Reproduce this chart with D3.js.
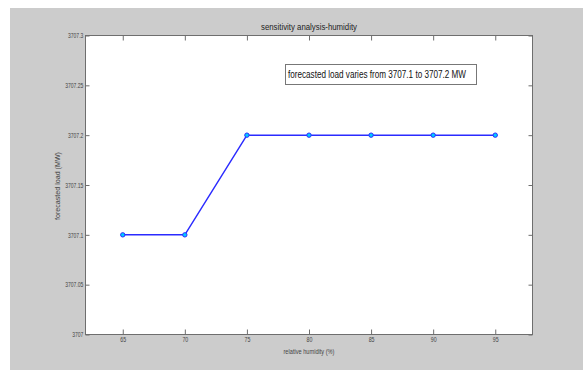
<!DOCTYPE html>
<html lang="en">
<head>
    <meta charset="UTF-8">
    <title>sensitivity analysis-humidity</title>
    <script src="https://d3js.org/d3.v7.min.js"></script>
    <style>
        body { margin: 0; background: #fff; }
        text { font-family: "Liberation Sans", Arial, sans-serif; fill: #333; }
        .axis path, .axis line { stroke: #6e6e6e; }
        .axis text { font-size: 7px; fill: #444; }
    </style>
</head>
<body>
<svg width="583" height="370"></svg>

<script>
    // data
    const humidity = [65, 70, 75, 80, 85, 90, 95];
    const load = [3707.1, 3707.1, 3707.2, 3707.2, 3707.2, 3707.2, 3707.2];
    const xTicks = [65, 70, 75, 80, 85, 90, 95];
    const yTicks = [3707, 3707.05, 3707.1, 3707.15, 3707.2, 3707.25, 3707.3];

    const svg = d3.select("svg");
    const plotL = 85.5, plotR = 532.5, plotT = 35.5, plotB = 334.5;

    // gray figure background
    svg.append("rect")
        .attr("x", 10).attr("y", 8)
        .attr("width", 573).attr("height", 362)
        .attr("fill", "#cccccc");

    svg.append("rect")
        .attr("x", plotL).attr("y", plotT)
        .attr("width", plotR - plotL).attr("height", plotB - plotT)
        .attr("fill", "#fff")
        .attr("stroke", "#6e6e6e");

    const x = d3.scaleLinear().domain([62, 98]).range([plotL, plotR]);
    const y = d3.scaleLinear().domain([3707, 3707.3]).range([plotB, plotT]);

    const fmtY = d => d3.format(".2~f")(d);

    // bottom axis, ticks pointing in
    const gx = svg.append("g")
        .attr("class", "axis")
        .attr("transform", `translate(0,${plotB})`)
        .call(d3.axisBottom(x).tickValues(xTicks).tickSize(-5).tickPadding(3).tickFormat(d3.format("d")));
    gx.select(".domain").remove();
    gx.selectAll("text").attr("transform", "scale(0.75,1)");

    const gxTop = svg.append("g")
        .attr("class", "axis")
        .attr("transform", `translate(0,${plotT})`)
        .call(d3.axisTop(x).tickValues(xTicks).tickSize(-5).tickFormat(""));
    gxTop.select(".domain").remove();

    const gy = svg.append("g")
        .attr("class", "axis")
        .attr("transform", `translate(${plotL},0)`)
        .call(d3.axisLeft(y).tickValues(yTicks).tickSize(-4).tickPadding(3).tickFormat(fmtY));
    gy.select(".domain").remove();
    gy.selectAll("text").attr("transform", "scale(0.72,1)");

    const gyRight = svg.append("g")
        .attr("class", "axis")
        .attr("transform", `translate(${plotR},0)`)
        .call(d3.axisRight(y).tickValues(yTicks).tickSize(-4).tickFormat(""));
    gyRight.select(".domain").remove();

    // line + markers
    const pts = humidity.map((h, i) => ({ h: h, v: load[i] }));

    svg.append("path")
        .datum(pts)
        .attr("fill", "none")
        .attr("stroke", "#2b2bff")
        .attr("stroke-width", 1.5)
        .attr("d", d3.line().x(d => x(d.h)).y(d => y(d.v)));

    svg.append("g")
        .selectAll("circle")
        .data(pts)
        .enter().append("circle")
        .attr("cx", d => x(d.h))
        .attr("cy", d => y(d.v))
        .attr("r", 2.2)
        .attr("fill", "#00ccff")
        .attr("stroke", "#2b2bff")
        .attr("stroke-width", 1);

    // title and labels
    svg.append("text")
        .attr("x", (plotL + plotR) / 2).attr("y", 30)
        .attr("text-anchor", "middle")
        .attr("font-size", 9.5)
        .attr("textLength", 96).attr("lengthAdjust", "spacingAndGlyphs")
        .style("fill", "#222")
        .text("sensitivity analysis-humidity");

    svg.append("text")
        .attr("x", (plotL + plotR) / 2).attr("y", 354)
        .attr("text-anchor", "middle")
        .attr("font-size", 7)
        .attr("textLength", 51).attr("lengthAdjust", "spacingAndGlyphs")
        .style("fill", "#444")
        .text("relative humidity (%)");

    svg.append("text")
        .attr("transform", "translate(60,186) rotate(-90)")
        .attr("text-anchor", "middle")
        .attr("font-size", 7)
        .attr("textLength", 68).attr("lengthAdjust", "spacingAndGlyphs")
        .style("fill", "#444")
        .text("forecasted load (MW)");

    // annotation box
    svg.append("rect")
        .attr("x", 285.5).attr("y", 64.5)
        .attr("width", 191).attr("height", 20)
        .attr("fill", "#fff")
        .attr("stroke", "#777");

    svg.append("text")
        .attr("x", 288).attr("y", 78)
        .attr("font-size", 10)
        .attr("textLength", 178).attr("lengthAdjust", "spacingAndGlyphs")
        .style("fill", "#111")
        .text("forecasted load varies from 3707.1 to 3707.2 MW");
</script>
</body>
</html>
